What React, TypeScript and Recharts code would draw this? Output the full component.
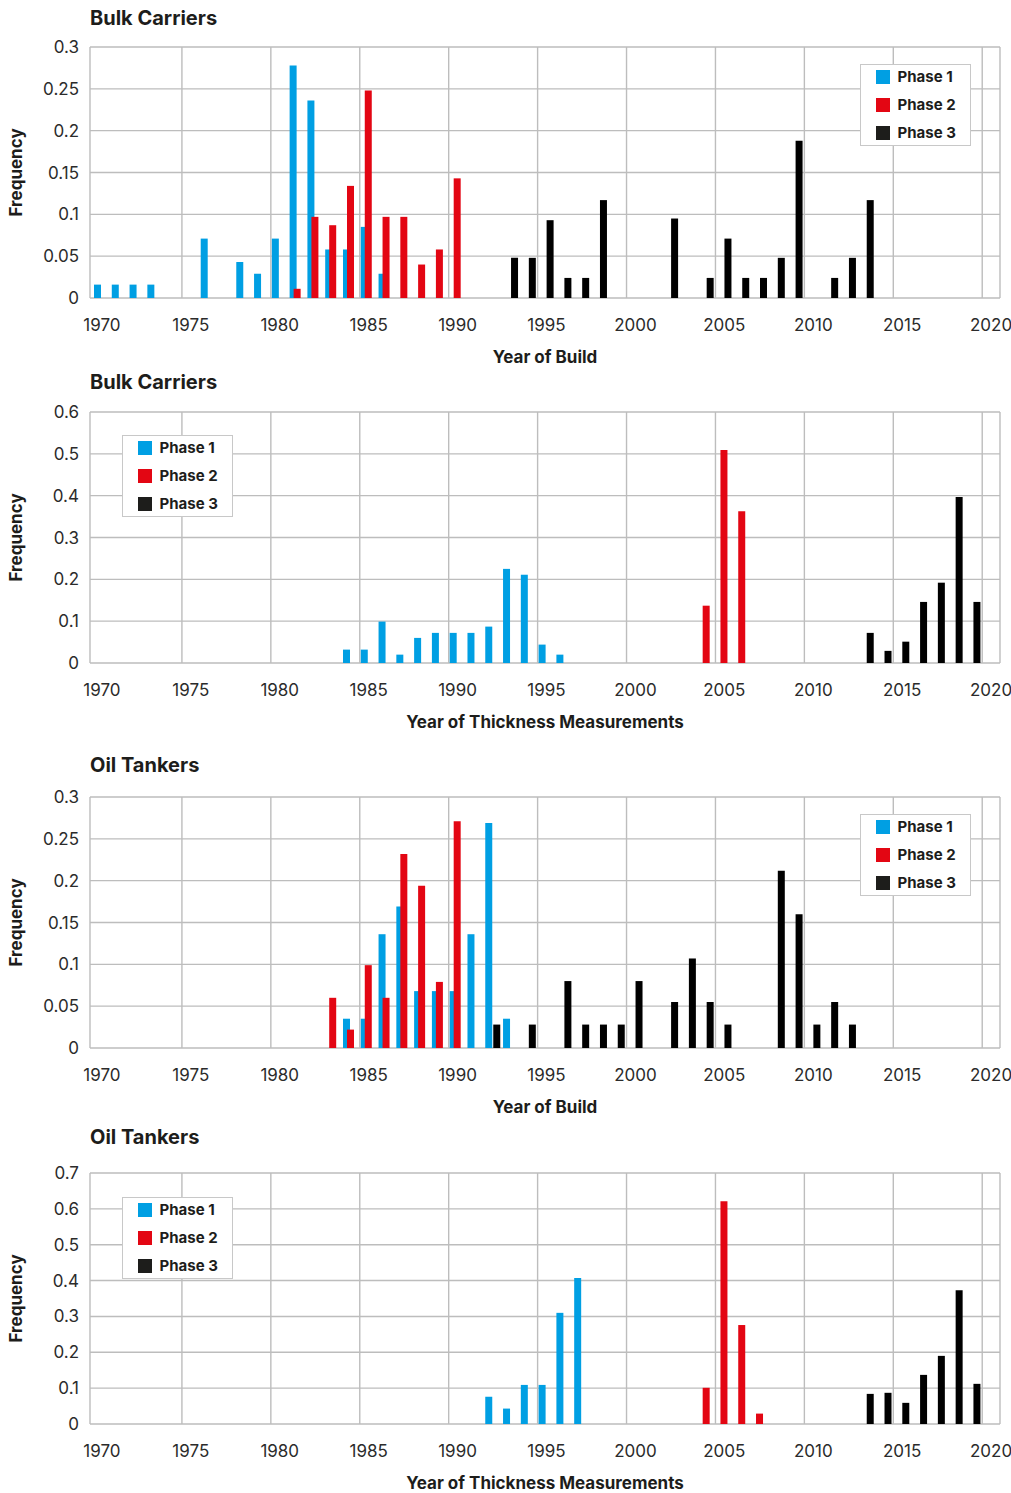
import React from 'react';
import { BarChart, Bar, XAxis, YAxis, CartesianGrid, Legend } from 'recharts';

const FONT = "Inter, 'DejaVu Sans', sans-serif";

const YEARS = [
  1970, 1971, 1972, 1973, 1974, 1975, 1976, 1977, 1978, 1979,
  1980, 1981, 1982, 1983, 1984, 1985, 1986, 1987, 1988, 1989,
  1990, 1991, 1992, 1993, 1994, 1995, 1996, 1997, 1998, 1999,
  2000, 2001, 2002, 2003, 2004, 2005, 2006, 2007, 2008, 2009,
  2010, 2011, 2012, 2013, 2014, 2015, 2016, 2017, 2018, 2019, 2020,
];

const Y_TICKS_030 = [0, 0.05, 0.1, 0.15, 0.2, 0.25, 0.3];
const Y_TICKS_060 = [0, 0.1, 0.2, 0.3, 0.4, 0.5, 0.6];
const Y_TICKS_070 = [0, 0.1, 0.2, 0.3, 0.4, 0.5, 0.6, 0.7];

const SERIES_NAMES = ['Phase 1', 'Phase 2', 'Phase 3'];
const SERIES_COLORS = ['#009FE3', '#E30613', '#000000'];

// Bulk Carriers - Year of Build
const bulkBuildP1: [number, number][] = [
  [1970, 0.016], [1971, 0.016], [1972, 0.016], [1973, 0.016], [1976, 0.071],
  [1978, 0.043], [1979, 0.029], [1980, 0.071], [1981, 0.278], [1982, 0.236],
  [1983, 0.058], [1984, 0.058], [1985, 0.085], [1986, 0.029],
];
const bulkBuildP2: [number, number][] = [
  [1981, 0.011], [1982, 0.097], [1983, 0.087], [1984, 0.134], [1985, 0.248],
  [1986, 0.097], [1987, 0.097], [1988, 0.04], [1989, 0.058], [1990, 0.143],
];
const bulkBuildP3: [number, number][] = [
  [1993, 0.048], [1994, 0.048], [1995, 0.093], [1996, 0.024], [1997, 0.024],
  [1998, 0.117], [2002, 0.095], [2004, 0.024], [2005, 0.071], [2006, 0.024],
  [2007, 0.024], [2008, 0.048], [2009, 0.188], [2011, 0.024], [2012, 0.048],
  [2013, 0.117],
];

// Bulk Carriers - Year of Thickness Measurements
const bulkThickP1: [number, number][] = [
  [1984, 0.032], [1985, 0.032], [1986, 0.099], [1987, 0.02], [1988, 0.06],
  [1989, 0.072], [1990, 0.072], [1991, 0.072], [1992, 0.087], [1993, 0.225],
  [1994, 0.211], [1995, 0.044], [1996, 0.02],
];
const bulkThickP2: [number, number][] = [
  [2004, 0.137], [2005, 0.509], [2006, 0.363],
];
const bulkThickP3: [number, number][] = [
  [2013, 0.072], [2014, 0.029], [2015, 0.051], [2016, 0.146], [2017, 0.192],
  [2018, 0.397], [2019, 0.146],
];

// Oil Tankers - Year of Build
const oilBuildP1: [number, number][] = [
  [1984, 0.035], [1985, 0.035], [1986, 0.136], [1987, 0.169], [1988, 0.068],
  [1989, 0.068], [1990, 0.068], [1991, 0.136], [1992, 0.269], [1993, 0.035],
];
const oilBuildP2: [number, number][] = [
  [1983, 0.06], [1984, 0.022], [1985, 0.099], [1986, 0.06], [1987, 0.232],
  [1988, 0.194], [1989, 0.079], [1990, 0.271],
];
const oilBuildP3: [number, number][] = [
  [1992, 0.028], [1994, 0.028], [1996, 0.08], [1997, 0.028], [1998, 0.028],
  [1999, 0.028], [2000, 0.08], [2002, 0.055], [2003, 0.107], [2004, 0.055],
  [2005, 0.028], [2008, 0.212], [2009, 0.16], [2010, 0.028], [2011, 0.055],
  [2012, 0.028],
];

// Oil Tankers - Year of Thickness Measurements
const oilThickP1: [number, number][] = [
  [1992, 0.076], [1993, 0.043], [1994, 0.109], [1995, 0.109], [1996, 0.31],
  [1997, 0.407],
];
const oilThickP2: [number, number][] = [
  [2004, 0.101], [2005, 0.621], [2006, 0.276], [2007, 0.029],
];
const oilThickP3: [number, number][] = [
  [2013, 0.084], [2014, 0.087], [2015, 0.059], [2016, 0.137], [2017, 0.19],
  [2018, 0.373], [2019, 0.112],
];

const X_PAD_LEFT = 3;
const GRID_COLOR = '#bdbdbd';
const TEXT_COLOR = '#2b2b2b';

function buildRows(p1: [number, number][], p2: [number, number][], p3: [number, number][]) {
  const m1 = new Map(p1);
  const m2 = new Map(p2);
  const m3 = new Map(p3);
  return YEARS.map((y) => ({
    year: y,
    p1: m1.has(y) ? m1.get(y) : null,
    p2: m2.has(y) ? m2.get(y) : null,
    p3: m3.has(y) ? m3.get(y) : null,
  }));
}

const gridX = (props: any) => {
  const off = props.offset;
  const left = off.left;
  const w = off.width;
  const bw = (w - X_PAD_LEFT) / YEARS.length;
  const lines = [left];
  for (let i = 5; i < YEARS.length; i += 5) lines.push(left + X_PAD_LEFT + i * bw);
  lines.push(left + w);
  return lines;
};

const XTick = (props: any) => (
  <text x={props.x} y={props.y + 27} textAnchor="middle" dominantBaseline="central"
    fontSize={17} fill={TEXT_COLOR} fontFamily={FONT}>
    {props.payload.value}
  </text>
);

const YTick = (props: any) => (
  <text x={props.x - 11} y={props.y} textAnchor="end" dominantBaseline="central"
    fontSize={17} fill={TEXT_COLOR} fontFamily={FONT}>
    {String(props.payload.value)}
  </text>
);

const renderLegend = (props: any) => {
  const payload = props.payload || [];
  return (
    <div style={{
      width: 111, height: 82, boxSizing: 'border-box', border: '1.5px solid #c8c8c8',
      background: '#fff',
    }}>
      <div style={{ marginTop: -2.5 }}>
        {payload.map((e: any) => (
          <div key={e.value} style={{ display: 'flex', alignItems: 'center', height: 28 }}>
            <span style={{ display: 'inline-block', width: 14, height: 14, background: e.color === '#000000' ? '#1d1d1b' : e.color, marginLeft: 14.5, marginRight: 8 }} />
            <span style={{ fontSize: 15, fontWeight: 700, fontFamily: FONT, color: '#1d1d1b', whiteSpace: 'nowrap' }}>{e.value}</span>
          </div>
        ))}
      </div>
    </div>
  );
};

type ChartProps = {
  top: number;
  title: string;
  titleY: number;
  xTitle: string;
  p1: [number, number][];
  p2: [number, number][];
  p3: [number, number][];
  yTicks: number[];
  legendX: number;
  legendY: number;
};

function FrequencyChart({ top, title, titleY, xTitle, p1, p2, p3, yTicks, legendX, legendY }: ChartProps) {
  const rows = buildRows(p1, p2, p3);
  const yMax = yTicks[yTicks.length - 1];
  return (
    <div style={{ position: 'absolute', left: 0, top, width: 1011, height: 370 }}>
      <div style={{
        position: 'absolute', left: 90, top: titleY - 12, height: 24, lineHeight: '24px',
        fontSize: 20, fontWeight: 700, fontFamily: FONT, color: '#1d1d1b', whiteSpace: 'nowrap',
      }}>{title}</div>
      <BarChart width={1011} height={370} data={rows}
        margin={{ top: 47, right: 11, bottom: 2, left: 40 }} barSize={7} barGap={-3}>
        <CartesianGrid stroke={GRID_COLOR} strokeWidth={1.4} fill="none"
          verticalCoordinatesGenerator={gridX} />
        <XAxis dataKey="year" type="category" interval={4} padding={{ left: X_PAD_LEFT, right: 0 }}
          height={70} axisLine={false} tickLine={false} tickSize={0} tickMargin={0} tick={XTick}
          label={(lp: any) => {
            const vb = lp.viewBox || {};
            return (
              <text x={vb.x + vb.width / 2} y={vb.y + 59} textAnchor="middle" dominantBaseline="central"
                fontSize={17} fontWeight={700} fill="#1d1d1b" fontFamily={FONT}>{xTitle}</text>
            );
          }} />
        <YAxis type="number" domain={[0, yMax]} ticks={yTicks} interval={0} width={50}
          axisLine={false} tickLine={false} tickSize={0} tickMargin={0} tick={YTick}
          label={(lp: any) => {
            const vb = lp.viewBox || {};
            const cx = vb.x - 24;
            const cy = vb.y + vb.height / 2;
            return (
              <text x={cx} y={cy} textAnchor="middle" dominantBaseline="central"
                transform={`rotate(-90, ${cx}, ${cy})`}
                fontSize={17} fontWeight={700} fill="#1d1d1b" fontFamily={FONT}>Frequency</text>
            );
          }} />
        <Legend content={renderLegend} layout="horizontal" verticalAlign="middle"
          wrapperStyle={{ left: legendX, top: legendY, width: 'auto', height: 'auto' }} />
        <Bar dataKey="p1" name={SERIES_NAMES[0]} fill={SERIES_COLORS[0]} isAnimationActive={false} />
        <Bar dataKey="p2" name={SERIES_NAMES[1]} fill={SERIES_COLORS[1]} isAnimationActive={false} />
        <Bar dataKey="p3" name={SERIES_NAMES[2]} fill={SERIES_COLORS[2]} isAnimationActive={false} />
      </BarChart>
    </div>
  );
}

export default function App() {
  return (
    <div style={{ position: 'absolute', left: 0, top: 0, width: 1011, height: 1493, overflow: 'hidden', background: '#fff' }}>
      <FrequencyChart top={0} title="Bulk Carriers" titleY={18} xTitle="Year of Build"
        p1={bulkBuildP1} p2={bulkBuildP2} p3={bulkBuildP3} yTicks={Y_TICKS_030}
        legendX={860} legendY={64} />
      <FrequencyChart top={365} title="Bulk Carriers" titleY={17} xTitle="Year of Thickness Measurements"
        p1={bulkThickP1} p2={bulkThickP2} p3={bulkThickP3} yTicks={Y_TICKS_060}
        legendX={122} legendY={70} />
      <FrequencyChart top={750} title="Oil Tankers" titleY={15} xTitle="Year of Build"
        p1={oilBuildP1} p2={oilBuildP2} p3={oilBuildP3} yTicks={Y_TICKS_030}
        legendX={860} legendY={64} />
      <FrequencyChart top={1126} title="Oil Tankers" titleY={11} xTitle="Year of Thickness Measurements"
        p1={oilThickP1} p2={oilThickP2} p3={oilThickP3} yTicks={Y_TICKS_070}
        legendX={122} legendY={71} />
    </div>
  );
}
